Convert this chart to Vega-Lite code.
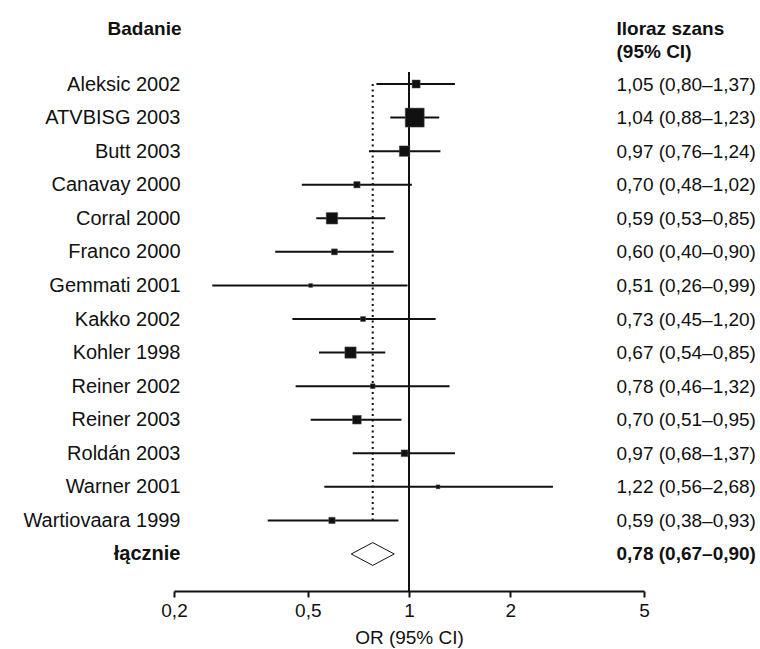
{
  "$schema": "https://vega.github.io/schema/vega-lite/v6.json",
  "width": 470,
  "height": 519,
  "autosize": {"type": "none"},
  "padding": {"left": 174, "top": 72, "right": 116, "bottom": 58},
  "background": "white",
  "config": {
    "view": {"stroke": null},
    "font": "Liberation Sans",
    "axis": {"grid": false, "labelFont": "Liberation Sans", "titleFont": "Liberation Sans", "labelColor": "#111", "titleColor": "#111"}
  },
  "data": {
    "values": [
      {"study": "Aleksic 2002", "or": 1.05, "lo": 0.80, "hi": 1.37, "weight": 5.8, "label": "1,05 (0,80–1,37)", "pooled": false},
      {"study": "ATVBISG 2003", "or": 1.04, "lo": 0.88, "hi": 1.23, "weight": 32.5, "label": "1,04 (0,88–1,23)", "pooled": false},
      {"study": "Butt 2003", "or": 0.97, "lo": 0.76, "hi": 1.24, "weight": 9.9, "label": "0,97 (0,76–1,24)", "pooled": false},
      {"study": "Canavay 2000", "or": 0.70, "lo": 0.48, "hi": 1.02, "weight": 3.6, "label": "0,70 (0,48–1,02)", "pooled": false},
      {"study": "Corral 2000", "or": 0.59, "lo": 0.53, "hi": 0.85, "weight": 11.9, "label": "0,59 (0,53–0,85)", "pooled": false},
      {"study": "Franco 2000", "or": 0.60, "lo": 0.40, "hi": 0.90, "weight": 3.2, "label": "0,60 (0,40–0,90)", "pooled": false},
      {"study": "Gemmati 2001", "or": 0.51, "lo": 0.26, "hi": 0.99, "weight": 1.4, "label": "0,51 (0,26–0,99)", "pooled": false},
      {"study": "Kakko 2002", "or": 0.73, "lo": 0.45, "hi": 1.20, "weight": 2.3, "label": "0,73 (0,45–1,20)", "pooled": false},
      {"study": "Kohler 1998", "or": 0.67, "lo": 0.54, "hi": 0.85, "weight": 11.5, "label": "0,67 (0,54–0,85)", "pooled": false},
      {"study": "Reiner 2002", "or": 0.78, "lo": 0.46, "hi": 1.32, "weight": 2.0, "label": "0,78 (0,46–1,32)", "pooled": false},
      {"study": "Reiner 2003", "or": 0.70, "lo": 0.51, "hi": 0.95, "weight": 6.8, "label": "0,70 (0,51–0,95)", "pooled": false},
      {"study": "Roldán 2003", "or": 0.97, "lo": 0.68, "hi": 1.37, "weight": 4.1, "label": "0,97 (0,68–1,37)", "pooled": false},
      {"study": "Warner 2001", "or": 1.22, "lo": 0.56, "hi": 2.68, "weight": 1.4, "label": "1,22 (0,56–2,68)", "pooled": false},
      {"study": "Wartiovaara 1999", "or": 0.59, "lo": 0.38, "hi": 0.93, "weight": 3.6, "label": "0,59 (0,38–0,93)", "pooled": false},
      {"study": "łącznie", "or": 0.78, "lo": 0.67, "hi": 0.90, "weight": 0, "label": "0,78 (0,67–0,90)", "pooled": true}
    ]
  },
  "layer": [
    {
      "layer": [
        {
          "mark": {"type": "rule", "strokeWidth": 2, "color": "#111"},
          "transform": [{"filter": "!datum.pooled"}],
          "encoding": {
            "y": {
              "field": "study", "type": "nominal",
              "scale": {"type": "point", "padding": 0.73, "align": 0.245,
                "domain": ["Aleksic 2002", "ATVBISG 2003", "Butt 2003", "Canavay 2000", "Corral 2000", "Franco 2000", "Gemmati 2001", "Kakko 2002", "Kohler 1998", "Reiner 2002", "Reiner 2003", "Roldán 2003", "Warner 2001", "Wartiovaara 1999", "łącznie"]},
              "axis": {
                "orient": "left", "domain": false, "ticks": false, "tickSize": 0, "labelPadding": -6,
                "labelFontSize": 20, "labelAlign": "right",
                "labelFontWeight": {"condition": {"test": "datum.value === 'łącznie'", "value": "bold"}, "value": "normal"},
                "title": "Badanie", "titleAngle": 0, "titleAlign": "right", "titleBaseline": "alphabetic",
                "titleX": 7, "titleY": -38, "titleFontSize": 19, "titleFontWeight": "bold"
              }
            },
            "x": {
              "field": "lo", "type": "quantitative",
              "scale": {"type": "log", "domain": [0.2, 5], "nice": false},
              "axis": {
                "values": [0.2, 0.5, 1, 2, 5], "format": "~g",
                "labelExpr": "replace(datum.label, '.', ',')",
                "domainColor": "#111", "domainWidth": 2, "tickColor": "#111", "tickWidth": 2, "tickSize": 6,
                "labelFontSize": 19, "labelPadding": 4, "labelFlush": false,
                "title": "OR (95% CI)", "titleFontSize": 19, "titleFontWeight": "normal", "titlePadding": 8
              }
            },
            "x2": {"field": "hi"}
          }
        },
        {
          "mark": {"type": "rule", "strokeWidth": 2, "color": "#111"},
          "transform": [{"filter": "datum.pooled"}],
          "encoding": {"x": {"datum": 1, "type": "quantitative"}}
        },
        {
          "mark": {"type": "line", "strokeWidth": 2, "color": "#111", "strokeDash": [2, 3.5]},
          "transform": [{"filter": "!datum.pooled"}],
          "encoding": {
            "x": {"datum": 0.78, "type": "quantitative"},
            "y": {"field": "study", "type": "nominal"}
          }
        },
        {
          "mark": {"type": "point", "shape": "square", "filled": true, "color": "#111", "opacity": 1, "stroke": "#555", "strokeWidth": 0.5},
          "transform": [{"filter": "!datum.pooled"}],
          "encoding": {
            "x": {"field": "or", "type": "quantitative"},
            "y": {"field": "study", "type": "nominal"},
            "size": {"field": "weight", "type": "quantitative", "scale": {"type": "linear", "domain": [0, 32.5], "range": [0, 361], "zero": true}, "legend": null}
          }
        },
        {
          "mark": {"type": "point", "shape": "M-1,0L0,-0.53L1,0L0,0.53Z", "size": 1849, "filled": true, "fill": "white", "stroke": "#111", "strokeWidth": 1, "opacity": 1},
          "transform": [{"filter": "datum.pooled"}],
          "encoding": {
            "x": {"field": "or", "type": "quantitative"},
            "y": {"field": "study", "type": "nominal"}
          }
        }
      ]
    },
    {
      "mark": {"type": "point", "opacity": 0},
      "encoding": {
        "x": {"field": "or", "type": "quantitative"},
        "y": {
          "field": "label", "type": "nominal", "sort": null,
          "scale": {"type": "point", "padding": 0.73, "align": 0.245},
          "axis": {
            "orient": "right", "domain": false, "ticks": false, "tickSize": 0, "labelPadding": -28,
            "labelAlign": "left", "labelFontSize": 19,
            "labelFontWeight": {"condition": {"test": "datum.value === '0,78 (0,67–0,90)'", "value": "bold"}, "value": "normal"},
            "title": ["Iloraz szans", "(95% CI)"], "titleAngle": 0, "titleAlign": "left", "titleBaseline": "alphabetic",
            "titleX": -28, "titleY": -38, "titleFontSize": 19, "titleFontWeight": "bold", "titleLineHeight": 23
          }
        }
      }
    }
  ],
  "resolve": {"scale": {"y": "independent"}}
}
